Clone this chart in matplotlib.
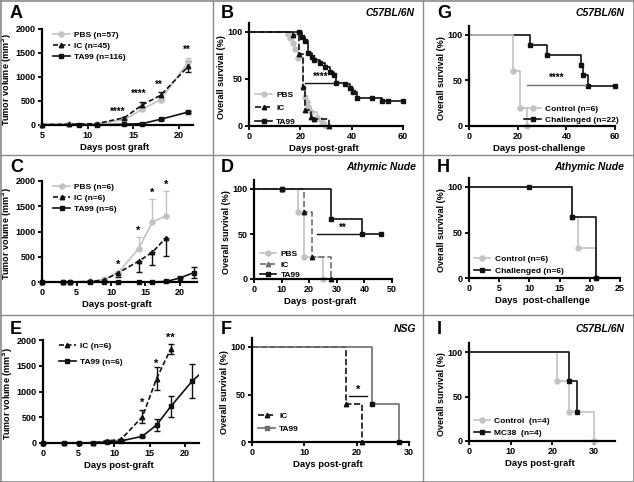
import matplotlib
matplotlib.use('Agg')
import matplotlib.pyplot as plt
from matplotlib.lines import Line2D
from matplotlib.container import ErrorbarContainer

plt.rcParams['font.family'] = ['Liberation Sans', 'DejaVu Sans']
plt.rcParams['font.weight'] = 'bold'

W, H = 634, 482
LG = '#c2c2c2'   # light grey (PBS / control)
BK = '#111111'
DG = '#6e6e6e'

# ---- panel A: tumor volume, C57BL/6N ----
A_days_pbs = [5, 8, 11, 14, 16, 18, 21]
A_pbs = [10, 15, 20, 110, 330, 530, 1310]
A_pbs_err = [0, 5, 5, 15, 40, 50, 90]
A_days_ic = [5, 8, 11, 14, 16, 18, 21]
A_ic = [10, 15, 30, 150, 420, 620, 1220]
A_ic_err = [0, 5, 10, 20, 60, 70, 110]
A_days_ta = [9, 11, 14, 16, 18, 21]
A_ta = [0, 5, 15, 30, 120, 270]
A_ta_err = [0, 2, 5, 10, 15, 25]
A_stars = [(13.3, 170, '****'), (15.6, 540, '****'), (17.8, 740, '**'), (20.9, 1460, '**')]

# ---- panel C: tumor volume, athymic nude ----
C_days = [0, 3, 4, 7, 9, 11, 14, 16, 18]
C_pbs = [0, 0, 0, 10, 50, 180, 660, 1190, 1310]
C_pbs_up = [0, 0, 0, 0, 10, 30, 230, 460, 490]
C_ic = [0, 0, 0, 10, 40, 180, 410, 590, 880]
C_ic_down = [0, 0, 0, 0, 10, 90, 210, 260, 360]
C_days_ta = [0, 3, 4, 7, 9, 11, 14, 16, 18, 20, 22]
C_ta = [0, 0, 0, 0, 0, 0, 0, 0, 10, 80, 185]
C_ta_err = [0, 0, 0, 0, 0, 0, 0, 0, 0, 10, 110]
C_stars = [(11, 250, '*'), (14, 910, '*'), (16, 1670, '*'), (18, 1830, '*')]

# ---- panel E: tumor volume, NSG ----
E_days_ic = [0, 3, 5, 7, 9, 11, 14, 16, 18]
E_ic = [0, 0, 0, 5, 40, 70, 510, 1250, 1830]
E_ic_err = [0, 0, 0, 0, 10, 15, 130, 220, 100]
E_days_ta = [0, 3, 5, 7, 9, 11, 14, 16, 18, 21, 23]
E_ta = [0, 0, 0, 0, 20, 40, 130, 350, 710, 1200, 1450]
E_ta_err = [0, 0, 0, 0, 5, 10, 15, 120, 210, 330, 0]
E_stars = [(14, 690, '*'), (16, 1440, '*'), (18, 1950, '**')]

# ---- panel B: survival C57BL/6N ----
B_pbs_t = [0, 15, 16, 17, 18, 19, 21, 22, 22.5, 23, 24, 26.5, 28.5, 30]
B_pbs_s = [100, 98, 94, 88, 82, 72, 41, 31, 26, 20, 15, 8, 4, 0]
B_ic_t = [0, 17, 19.5, 21, 22, 24, 25.5, 31]
B_ic_s = [100, 97, 77, 41, 17, 10, 7, 0]
B_ta_t = [0, 19.5, 20.5, 22, 23, 24.5, 25.5, 27.5, 29.5, 31.5, 33, 34, 37.5, 39.5,
          40.5, 42, 48, 52, 54, 60]
B_ta_s = [100, 100, 95, 90, 78, 73, 70, 67, 63, 57, 54, 46, 45, 40, 36, 30, 30, 27, 27, 27]

# ---- panel D: survival athymic nude ----
D_pbs_t = [0, 10, 16, 18, 25]
D_pbs_s = [100, 100, 75, 25, 0]
D_ic_t = [0, 10, 18, 21, 28]
D_ic_s = [100, 100, 75, 25, 0]
D_ta_t = [0, 10, 28, 39, 46]
D_ta_s = [100, 100, 67, 50, 50]

# ---- panel F: survival NSG ----
F_ic_t = [0, 18, 21]
F_ic_s = [100, 40, 0]
F_ta_t = [0, 23, 28]
F_ta_s = [100, 40, 0]

# ---- panel G: rechallenge C57BL/6N ----
G_ctrl_t = [0, 18, 21, 24]
G_ctrl_s = [100, 60, 20, 0]
G_ch_t = [0, 25, 32, 46, 47, 49, 60]
G_ch_s = [100, 89, 78, 67, 56, 44, 44]

# ---- panel H: rechallenge athymic nude ----
H_ctrl_t = [0, 17, 18, 21]
H_ctrl_s = [100, 67, 33, 0]
H_ch_t = [0, 10, 17, 21]
H_ch_s = [100, 100, 67, 0]

# ---- panel I: MC38 C57BL/6N ----
I_ctrl_t = [0, 21, 24, 30]
I_ctrl_s = [100, 67, 33, 0]
I_mc_t = [0, 24, 26]
I_mc_s = [100, 67, 33]

fig = plt.figure(figsize=(W / 100, H / 100), dpi=100)


def make_ax(xpx, xval, ypx, yval, xr, yr, xticks, yticks, pad=5):
    sx = (xpx[1] - xpx[0]) / (xval[1] - xval[0])
    sy = (ypx[1] - ypx[0]) / (yval[1] - yval[0])
    lo_x, hi_x = xr[0] - pad / sx, xr[1]
    lo_y, hi_y = yr[0] - pad / abs(sy), yr[1]
    left = xpx[0] + (lo_x - xval[0]) * sx
    right = xpx[0] + (hi_x - xval[0]) * sx
    bottom = ypx[0] + (lo_y - yval[0]) * sy
    top = ypx[0] + (hi_y - yval[0]) * sy
    ax = fig.add_axes([left / W, 1 - bottom / H, (right - left) / W, (bottom - top) / H])
    ax.set_xlim(lo_x, hi_x)
    ax.set_ylim(lo_y, hi_y)
    ax.patch.set_alpha(0)
    for s in ['top', 'right']:
        ax.spines[s].set_visible(False)
    ax.spines['left'].set_position(('data', xr[0]))
    ax.spines['bottom'].set_position(('data', yr[0]))
    ax.spines['left'].set_bounds(yr[0], yr[1])
    ax.spines['bottom'].set_bounds(xr[0], xr[1])
    for s in ['left', 'bottom']:
        ax.spines[s].set_linewidth(1.6)
    ax.set_xticks(xticks)
    ax.set_yticks(yticks)
    ax.tick_params(length=3, width=1.3, labelsize=6.5, pad=1.5)
    for lab in ax.get_xticklabels() + ax.get_yticklabels():
        lab.set_fontweight('bold')
    return ax


def fig_text(x, y, s, **kw):
    fig.text(x / W, 1 - y / H, s, **kw)


def tumor(ax, x, y, err, color, marker, ls, label, clip=False, ms=3.6):
    ax.errorbar(x, y, yerr=err, color=color, marker=marker, ls=ls, lw=1.2, ms=ms,
                capsize=2, elinewidth=1, capthick=1, label=label, clip_on=clip,
                dashes=(3, 1.5) if ls == '--' else (None, None))


def km(ax, t, s, color, marker, ls, label, mcolor=None, ms=3.6):
    ax.plot(t, s, drawstyle='steps-post', color=color, ls=ls, lw=1.2, clip_on=False)
    ax.plot(t[1:], s[1:], ls='none', marker=marker, color=mcolor or color, ms=ms, clip_on=False)
    ax.plot([], [], color=color, ls=ls, lw=1.2, marker=marker, ms=ms, label=label)


def legend(ax, loc, **kw):
    hs, ls = ax.get_legend_handles_labels()
    hs = [h[0] if isinstance(h, ErrorbarContainer) else h for h in hs]
    opts = dict(frameon=False, prop={'weight': 'bold', 'size': 6}, handlelength=2.0,
                handletextpad=0.5, labelspacing=0.4, borderaxespad=0.2)
    opts.update(kw)
    ax.legend(hs, ls, loc=loc, **opts)


def labels(ax, xl, yl):
    ax.set_xlabel(xl, fontsize=6.8, fontweight='bold', labelpad=2)
    ax.set_ylabel(yl, fontsize=6.5, fontweight='bold', labelpad=1)


tum_y = [0, 500, 1000, 1500, 2000]
surv_y = [0, 50, 100]
TUM = 'Tumor volume (mm$^\\mathbf{3}$)'
SURV = 'Overall survival (%)'

# A
ax = make_ax((42, 179), (5, 20), (125, 29), (0, 2000), (5, 21.5), (0, 2000), [5, 10, 15, 20], tum_y)
tumor(ax, A_days_pbs, A_pbs, A_pbs_err, LG, 'o', '-', 'PBS (n=57)')
tumor(ax, A_days_ic, A_ic, A_ic_err, BK, '^', '--', 'IC (n=45)', ms=3.2)
tumor(ax, A_days_ta, A_ta, A_ta_err, BK, 's', '-', 'TA99 (n=116)', ms=3.4)
for x, y, s in A_stars:
    ax.text(x, y, s, ha='center', va='bottom', fontsize=7, fontweight='bold')
labels(ax, 'Days post graft', TUM)
legend(ax, 'upper left', bbox_to_anchor=(0.07, 1.03))

# C
ax = make_ax((42, 180), (0, 20), (282, 181), (0, 2000), (0, 22.5), (0, 2000), [0, 5, 10, 15, 20], tum_y)
tumor(ax, C_days, C_pbs, [[0] * len(C_pbs_up), C_pbs_up], LG, 'o', '-', 'PBS (n=6)')
tumor(ax, C_days, C_ic, [C_ic_down, [0] * len(C_ic_down)], BK, '^', '--', 'IC (n=6)', ms=3.2)
tumor(ax, C_days_ta, C_ta, C_ta_err, BK, 's', '-', 'TA99 (n=6)', ms=3.4)
for x, y, s in C_stars:
    ax.text(x, y, s, ha='center', va='bottom', fontsize=8, fontweight='bold')
labels(ax, 'Days post-graft', TUM)
legend(ax, 'upper left', bbox_to_anchor=(0.07, 1.03))

# E
ax = make_ax((43, 185), (0, 20), (443, 340), (0, 2000), (0, 22), (0, 2000), [0, 5, 10, 15, 20], tum_y)
tumor(ax, E_days_ic, E_ic, E_ic_err, BK, '^', '--', 'IC (n=6)', ms=3.2)
tumor(ax, E_days_ta, E_ta, E_ta_err, BK, 's', '-', 'TA99 (n=6)', clip=True, ms=3.4)
for x, y, s in E_stars:
    ax.text(x, y, s, ha='center', va='bottom', fontsize=8, fontweight='bold')
labels(ax, 'Days post-graft', TUM)
legend(ax, 'upper left', bbox_to_anchor=(0.1, 1.03), labelspacing=1.0)

# B
ax = make_ax((249, 403), (0, 60), (126, 32), (0, 100), (0, 60), (0, 110), [0, 20, 40, 60], surv_y)
km(ax, B_pbs_t, B_pbs_s, LG, 'o', '-', 'PBS')
km(ax, B_ic_t, B_ic_s, BK, '^', '--', 'IC', ms=3.2)
km(ax, B_ta_t, B_ta_s, BK, 's', '-', 'TA99', ms=3.4)
ax.plot([22, 34], [46, 46], color=BK, lw=1)
ax.text(28, 47, '****', ha='center', va='bottom', fontsize=7, fontweight='bold')
labels(ax, 'Days post-graft', SURV)
legend(ax, 'lower left', bbox_to_anchor=(0.04, 0.0), labelspacing=0.7)

# D
ax = make_ax((254, 392), (0, 50), (279, 189), (0, 100), (0, 50), (0, 110), [0, 10, 20, 30, 40, 50], surv_y)
km(ax, D_pbs_t, D_pbs_s, LG, 'o', '-', 'PBS')
km(ax, D_ic_t, D_ic_s, DG, '^', '--', 'IC', mcolor=BK, ms=3.2)
km(ax, D_ta_t, D_ta_s, BK, 's', '-', 'TA99', ms=3.4)
ax.plot([23, 39], [50, 50], color=BK, lw=1)
ax.text(32, 51, '**', ha='center', va='bottom', fontsize=7, fontweight='bold')
labels(ax, 'Days  post-graft', SURV)
legend(ax, 'lower left', bbox_to_anchor=(0.04, 0.0), labelspacing=0.3)

# F
ax = make_ax((252, 409), (0, 30), (442, 347), (0, 100), (0, 30), (0, 110), [0, 10, 20, 30], surv_y)
km(ax, F_ic_t, F_ic_s, BK, '^', '--', 'IC', ms=3.2)
km(ax, F_ta_t, F_ta_s, DG, 's', '-', 'TA99', mcolor=BK, ms=3.4)
ax.plot([18.5, 22], [48, 48], color=BK, lw=1)
ax.text(20.3, 50, '*', ha='center', va='bottom', fontsize=8, fontweight='bold')
labels(ax, 'Days post-graft', SURV)
legend(ax, 'lower left', bbox_to_anchor=(0.04, 0.08), labelspacing=0.7)

# G
ax = make_ax((469, 615), (0, 60), (126, 35), (0, 100), (0, 60), (0, 110), [0, 20, 40, 60], surv_y)
km(ax, G_ch_t, G_ch_s, BK, 's', '-', None, ms=3.4)
km(ax, G_ctrl_t, G_ctrl_s, LG, 'o', '-', 'Control (n=6)')
ax.plot([], [], color=BK, marker='s', ms=3.4, lw=1.2, label='Challenged (n=22)')
ax.plot([24, 48], [45, 45], color=DG, lw=1)
ax.text(36, 47, '****', ha='center', va='bottom', fontsize=7, fontweight='bold')
labels(ax, 'Days post-challenge', SURV)
legend(ax, 'lower right', bbox_to_anchor=(1.06, 0.02), labelspacing=0.4)

# H
ax = make_ax((469, 620), (0, 25), (278, 187), (0, 100), (0, 25), (0, 110), [0, 5, 10, 15, 20, 25], surv_y)
km(ax, H_ctrl_t, H_ctrl_s, LG, 'o', '-', 'Control (n=6)')
km(ax, H_ch_t, H_ch_s, BK, 's', '-', 'Challenged (n=6)', ms=3.4)
labels(ax, 'Days  post-challenge', SURV)
legend(ax, 'lower left', bbox_to_anchor=(0.03, 0.03), labelspacing=0.5)

# I
ax = make_ax((469, 594), (0, 30), (441, 352), (0, 100), (0, 35), (0, 110), [0, 10, 20, 30], surv_y)
km(ax, I_ctrl_t, I_ctrl_s, LG, 'o', '-', 'Control  (n=4)')
km(ax, I_mc_t, I_mc_s, BK, 's', '-', 'MC38  (n=4)', ms=3.4)
labels(ax, 'Days post-graft', SURV)
legend(ax, 'lower left', bbox_to_anchor=(0.03, 0.04), labelspacing=0.5)

# panel letters and strain labels
for x, y, s in [(10, 14, 'A'), (221, 14, 'B'), (10, 167, 'C'), (221, 167, 'D'),
                (10, 330, 'E'), (221, 330, 'F'), (437, 14, 'G'), (437, 167, 'H'), (437, 330, 'I')]:
    fig_text(x, y, s, fontsize=13, fontweight='bold', va='center', ha='left')
for x, y, s in [(414, 13, 'C57BL/6N'), (416, 167, 'Athymic Nude'), (416, 329, 'NSG'),
                (624, 13, 'C57BL/6N'), (624, 167, 'Athymic Nude'), (624, 329, 'C57BL/6N')]:
    fig_text(x, y, s, fontsize=7.5, fontweight='bold', style='italic', va='center', ha='right')

# panel frame lines
fr = '#8a8a8a'
for xv in [212.5, 422.5]:
    fig.add_artist(Line2D([xv / W] * 2, [0, 1], color=fr, lw=1))
for yv in [155, 315]:
    fig.add_artist(Line2D([0, 1], [1 - yv / H] * 2, color=fr, lw=1))
for xv in [0.5, W - 0.5]:
    fig.add_artist(Line2D([xv / W] * 2, [0, 1], color=fr, lw=1.2))
for yv in [0.5, H - 0.5]:
    fig.add_artist(Line2D([0, 1], [1 - yv / H] * 2, color=fr, lw=1.2))

fig.savefig('out.png', dpi=100)
